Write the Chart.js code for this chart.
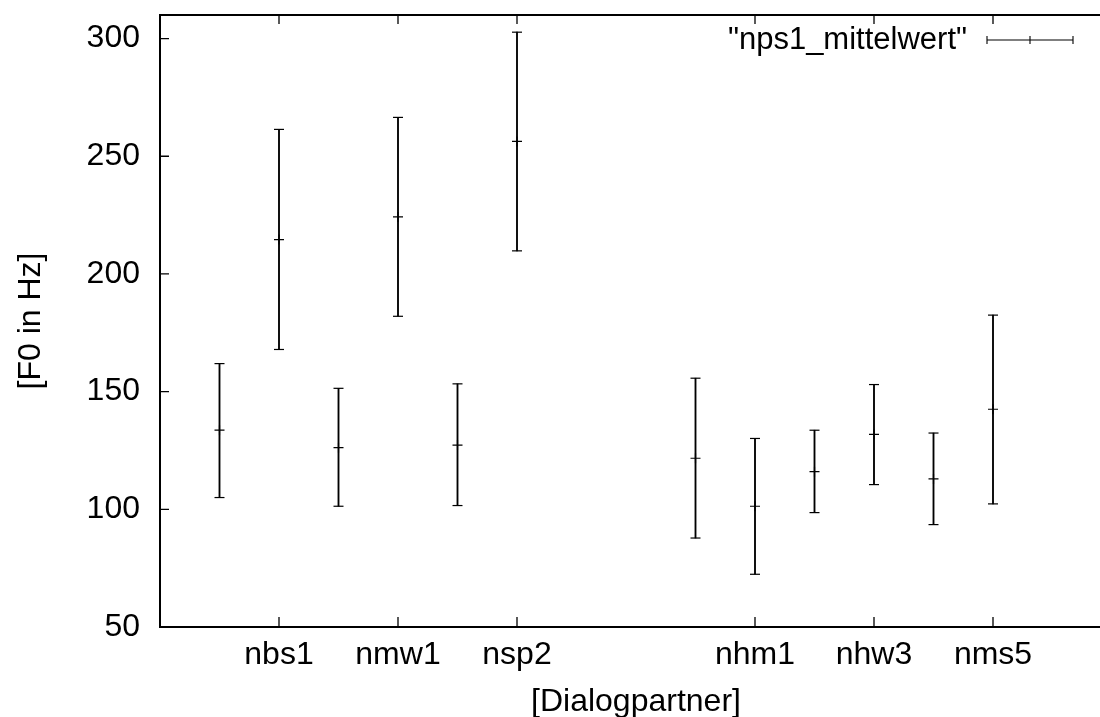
<!DOCTYPE html>
<html lang="de">
<head>
    <meta charset="UTF-8">
    <title>F0 Mittelwerte</title>
    <script src="https://cdn.jsdelivr.net/npm/chart.js"></script>
    <style>
        body {
            margin: 0;
            background: #fff;
            overflow: hidden; /* plot box runs a little past the window on the right */
        }
        #wrap {
            width: 1150px;
            height: 717px;
        }
    </style>
</head>
<body>
    <div id="wrap"><canvas id="f0Chart"></canvas></div>

    <script>
        // gnuplot style x index of each dialog partner (gap between the two groups)
        const positions = [1, 2, 3, 4, 5, 6, 9, 10, 11, 12, 13, 14];
        const meanF0 = [133.6, 214.6, 126.2, 224.2, 127.3, 256.3, 121.7, 101.3, 116.0, 131.8, 112.9, 142.5];
        const lowF0  = [105.0, 167.9, 101.3, 182.0, 101.6, 209.8, 87.8, 72.4, 98.6, 110.5, 93.5, 102.3];
        const highF0 = [161.9, 261.4, 151.4, 266.5, 153.3, 302.7, 155.7, 130.1, 133.6, 153.0, 132.4, 182.5];

        const xTickValues = [2, 4, 6, 10, 12, 14];
        const xTickLabels = ['nbs1', 'nmw1', 'nsp2', 'nhm1', 'nhw3', 'nms5'];
        const yTickValues = [50, 100, 150, 200, 250, 300];
        const seriesName = '"nps1_mittelwert"';

        const FONT = '"Liberation Sans", Arial, Helvetica, sans-serif';
        const FS = 32;
        Chart.defaults.color = '#000';
        Chart.defaults.font.family = FONT;

        // gnuplot look: closed box, inward ticks, errorbar legend sample
        const gnuplotFrame = {
            id: 'gnuplotFrame',
            afterDraw(chart) {
                const {ctx, chartArea: a, scales: {x, y}} = chart;
                ctx.save();
                ctx.strokeStyle = '#000';
                ctx.lineWidth = 2;
                ctx.beginPath();
                ctx.moveTo(a.left, a.top);
                ctx.lineTo(a.right, a.top);
                ctx.lineTo(a.right, a.bottom);
                ctx.stroke();

                ctx.lineWidth = 1.3;
                ctx.beginPath();
                y.ticks.forEach(t => {
                    const py = y.getPixelForValue(t.value);
                    ctx.moveTo(a.left, py); ctx.lineTo(a.left + 9, py);
                    ctx.moveTo(a.right, py); ctx.lineTo(a.right - 9, py);
                });
                x.ticks.forEach(t => {
                    const px = x.getPixelForValue(t.value);
                    ctx.moveTo(px, a.bottom); ctx.lineTo(px, a.bottom - 10);
                    ctx.moveTo(px, a.top); ctx.lineTo(px, a.top + 9);
                });
                ctx.stroke();

                // legend, top right
                const ly = a.top + 25;
                ctx.font = '31px ' + FONT;
                ctx.fillStyle = '#000';
                ctx.textAlign = 'right';
                ctx.textBaseline = 'middle';
                ctx.fillText(seriesName, a.right - 145, ly);
                const x0 = a.right - 125, x1 = a.right - 39, xm = (x0 + x1) / 2;
                ctx.lineWidth = 1.1;
                ctx.beginPath();
                ctx.moveTo(x0, ly); ctx.lineTo(x1, ly);
                ctx.moveTo(x0, ly - 4); ctx.lineTo(x0, ly + 4);
                ctx.moveTo(x1, ly - 4); ctx.lineTo(x1, ly + 4);
                ctx.moveTo(xm, ly - 4); ctx.lineTo(xm, ly + 4);
                ctx.stroke();
                ctx.restore();
            }
        };

        const ctx = document.getElementById('f0Chart').getContext('2d');
        new Chart(ctx, {
            type: 'scatter',
            data: {
                datasets: [
                    {
                        type: 'bar',
                        data: positions.map((p, i) => ({x: p, y: [lowF0[i], highF0[i]]})),
                        backgroundColor: '#000',
                        borderWidth: 0,
                        barThickness: 1.2,
                        grouped: false
                    },
                    {
                        data: positions.map((p, i) => ({x: p, y: lowF0[i]})),
                        pointStyle: 'line', pointRadius: 5, borderWidth: 1.2, borderColor: '#000'
                    },
                    {
                        data: positions.map((p, i) => ({x: p, y: highF0[i]})),
                        pointStyle: 'line', pointRadius: 5, borderWidth: 1.2, borderColor: '#000'
                    },
                    {
                        data: positions.map((p, i) => ({x: p, y: meanF0[i]})),
                        pointStyle: 'cross', pointRadius: 5, borderWidth: 1.2, borderColor: '#000'
                    }
                ]
            },
            options: {
                responsive: true,
                maintainAspectRatio: false,
                animation: false,
                events: [],
                layout: {padding: {top: 15, right: 38, left: 0, bottom: 0}},
                plugins: {
                    legend: {display: false},
                    tooltip: {enabled: false}
                },
                scales: {
                    x: {
                        type: 'linear',
                        min: 0,
                        max: 16,
                        offset: false,
                        grid: {display: false, drawTicks: false},
                        border: {display: true, color: '#000', width: 2},
                        afterBuildTicks: s => { s.ticks = xTickValues.map(v => ({value: v})); },
                        afterFit: s => { s.height = 90; s.paddingLeft = 0; s.paddingRight = 0; },
                        ticks: {
                            font: {size: FS},
                            padding: 9,
                            maxRotation: 0,
                            autoSkip: false,
                            callback: v => xTickLabels[xTickValues.indexOf(v)]
                        },
                        title: {
                            display: true,
                            text: '[Dialogpartner]',
                            font: {size: FS},
                            padding: {top: 0, bottom: -4}
                        }
                    },
                    y: {
                        min: 50,
                        max: 310,
                        grid: {display: false, drawTicks: false},
                        border: {display: true, color: '#000', width: 2},
                        afterBuildTicks: s => { s.ticks = yTickValues.map(v => ({value: v})); },
                        afterFit: s => { s.width = 160; s.paddingTop = 0; s.paddingBottom = 0; },
                        ticks: {
                            font: {size: FS},
                            padding: 20
                        },
                        title: {
                            display: true,
                            text: '[F0 in Hz]',
                            font: {size: FS},
                            padding: {top: 12, bottom: 0}
                        }
                    }
                }
            },
            plugins: [gnuplotFrame]
        });
    </script>
</body>
</html>
